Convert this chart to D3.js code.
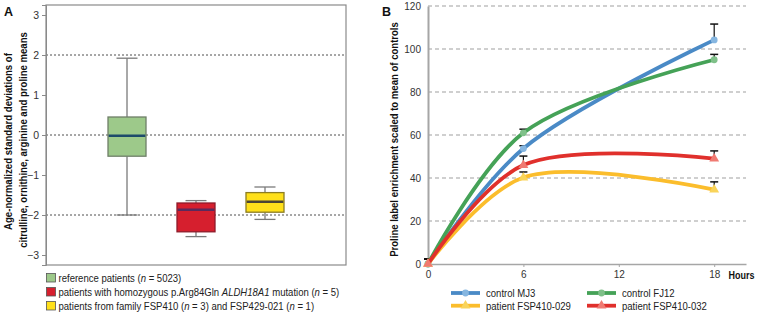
<!DOCTYPE html>
<html><head><meta charset="utf-8">
<script src="https://cdn.jsdelivr.net/npm/d3@7"></script>
<style>
body{margin:0;background:#fff;}
svg{display:block;font-family:"Liberation Sans",Arial,sans-serif;}
</style></head>
<body><svg id="c" width="757" height="314"></svg>
<script>
// ---------- Panel A data ----------
const groupsA = ["reference","ALDH18A1","FSP410"];
const whiskerLow  = [-2.00, -2.54, -2.11];
const q1          = [-0.53, -2.42, -1.93];
const medianA     = [-0.02, -1.87, -1.67];
const q3          = [ 0.45, -1.70, -1.44];
const whiskerHigh = [ 1.92, -1.64, -1.30];
const yTicksA = [-3,-2,-1,0,1,2,3];
const gridA = [-2,0,2];
const boxFill   = ["#9dc98a","#d61f2e","#ffe01a"];
const boxStroke = ["#6f7f68","#8e1b2a","#8c7d22"];
const medColor  = ["#1d4a6a","#5b2a5c","#4a4535"];

// ---------- Panel B data ----------
const hours = [0, 6, 18];
const seriesNames = ["control MJ3","control FJ12","patient FSP410-029","patient FSP410-032"];
const mj3   = [0, 53.7, 104.2];
const fj12  = [0, 61.0, 95.0];
const p029  = [0, 40.2, 34.6];
const p032  = [0, 46.0, 49.0];
const mj3Up  = [2.3, 55.0, 111.6];
const fj12Up = [2.3, 62.7, 97.5];
const p029Up = [2.3, 42.8, 38.2];
const p032Up = [2.3, 50.2, 52.6];
const xTicksB = [0, 6, 12, 18];
const yTicksB = [0, 20, 40, 60, 80, 100, 120];
const lineColors = ["#4a8ac6","#45a257","#fbbd2c","#e0302c"];
const markColors = ["#86b6e0","#7fc089","#f9d45a","#f07a72"];
const markShapes = ["circle","circle","triangle","triangle"];

const svg = d3.select("#c");
const FONT = "'Liberation Sans',Arial,sans-serif";

// horizontal squeeze factor so a text's length matches a target length
function squeeze(sel, target){
  const w = sel.node().getComputedTextLength();
  return target / w;
}
function place(sel, x, y, rot, sx){
  sel.attr("transform", `translate(${x},${y})` + (rot ? ` rotate(${rot})` : "") + ` scale(${sx},1)`);
}

// ================= Panel A =================
const A = svg.append("g");
const yA = d3.scaleLinear().domain([-3.25, 3.25]).range([265, 5]);
const xA = d3.scalePoint().domain(groupsA).range([46, 346]).padding(1.174);
const bw = 38, cw = 21;

A.append("text").attr("x",4).attr("y",16).text("A")
  .attr("font-weight","bold").attr("font-size",12.5).attr("fill","#111");

A.selectAll(".gA").data(gridA).join("line")
  .attr("x1",46).attr("x2",346).attr("y1",d=>yA(d)).attr("y2",d=>yA(d))
  .attr("stroke","#222").attr("stroke-width",0.8).attr("stroke-dasharray","2,2");

A.append("rect").attr("x",46).attr("y",5).attr("width",300).attr("height",260)
  .attr("fill","none").attr("stroke","#8a8a8a").attr("stroke-width",1.2);

const axA = A.append("g").attr("transform","translate(46,0)")
  .call(d3.axisLeft(yA).tickValues(yTicksA).tickSize(4).tickPadding(3).tickFormat(d3.format("d")));
axA.select(".domain").attr("stroke","#8a8a8a");
axA.selectAll(".tick line").attr("stroke","#8a8a8a");
axA.selectAll("text").attr("font-size",10.5).attr("fill","#333").attr("font-family",FONT);

groupsA.forEach((g,i)=>{
  const cx = xA(g);
  const gg = A.append("g");
  gg.append("line").attr("x1",cx).attr("x2",cx).attr("y1",yA(whiskerHigh[i])).attr("y2",yA(q3[i]))
    .attr("stroke","#7a7a7a").attr("stroke-width",1.3);
  gg.append("line").attr("x1",cx).attr("x2",cx).attr("y1",yA(q1[i])).attr("y2",yA(whiskerLow[i]))
    .attr("stroke","#7a7a7a").attr("stroke-width",1.3);
  [whiskerHigh[i], whiskerLow[i]].forEach(v=>{
    gg.append("line").attr("x1",cx-cw/2).attr("x2",cx+cw/2).attr("y1",yA(v)).attr("y2",yA(v))
      .attr("stroke","#7a7a7a").attr("stroke-width",1.3);
  });
  gg.append("rect").attr("x",cx-bw/2).attr("y",yA(q3[i])).attr("width",bw)
    .attr("height",yA(q1[i])-yA(q3[i])).attr("fill",boxFill[i])
    .attr("stroke",boxStroke[i]).attr("stroke-width",1.3);
  gg.append("line").attr("x1",cx-bw/2+0.7).attr("x2",cx+bw/2-0.7).attr("y1",yA(medianA[i])).attr("y2",yA(medianA[i]))
    .attr("stroke",medColor[i]).attr("stroke-width",2.6);
});

// y title A (two rotated lines)
const t1 = A.append("text").attr("text-anchor","middle").attr("font-weight","bold")
  .attr("font-size",10.5).attr("fill","#111").text("Age-normalized standard deviations of");
place(t1, 12, 141.5, -90, squeeze(t1, 177));
const t2 = A.append("text").attr("text-anchor","middle").attr("font-weight","bold")
  .attr("font-size",10.5).attr("fill","#111").text("citrulline, ornithine, arginine and proline means");
place(t2, 27, 140, -90, squeeze(t2, 216));

// legend A
const legA = [
  [["reference patients (",false],["n",true],[" = 5023)",false]],
  [["patients with homozygous p.Arg84Gln ",false],["ALDH18A1",true],[" mutation (",false],["n",true],[" = 5)",false]],
  [["patients from family FSP410 (",false],["n",true],[" = 3) and FSP429-021 (",false],["n",true],[" = 1)",false]]
];
const legTexts = [];
legA.forEach((parts,i)=>{
  const y = 278 + i*14;
  A.append("rect").attr("x",46.5).attr("y",y-4.5).attr("width",9).attr("height",8.5)
    .attr("fill",boxFill[i]).attr("stroke","#555").attr("stroke-width",0.8);
  const t = A.append("text").attr("font-size",10.7).attr("fill","#222");
  parts.forEach(p=>t.append("tspan").text(p[0]).attr("font-style",p[1]?"italic":"normal"));
  legTexts.push(t);
});
const sxA = squeeze(legTexts[1], 281);
legTexts.forEach((t,i)=>place(t, 58.5, 278 + i*14 + 4, 0, sxA));

// ================= Panel B =================
const B = svg.append("g");
const xB = d3.scaleLinear().domain([0,20]).range([428,746]);
const yB = d3.scaleLinear().domain([0,120]).range([264,6]);

B.append("text").attr("x",382).attr("y",16).text("B")
  .attr("font-weight","bold").attr("font-size",12.5).attr("fill","#111");

B.selectAll(".gB").data(yTicksB.filter(d=>d>0)).join("line")
  .attr("x1",428).attr("x2",746).attr("y1",d=>yB(d)).attr("y2",d=>yB(d))
  .attr("stroke","#a0a0a0").attr("stroke-width",1.1).attr("stroke-dasharray","4,3");

const axBy = B.append("g").attr("transform","translate(428,0)")
  .call(d3.axisLeft(yB).tickValues(yTicksB).tickSize(0).tickPadding(7));
axBy.select(".domain").attr("stroke","#a6a6a6").attr("stroke-width",2);
axBy.selectAll("text").attr("font-size",10).attr("fill","#333").attr("font-family",FONT);

const axBx = B.append("g").attr("transform","translate(0,264)")
  .call(d3.axisBottom(xB).tickValues(xTicksB).tickSize(3).tickPadding(4).tickSizeOuter(0));
axBx.select(".domain").attr("stroke","#a6a6a6").attr("stroke-width",1.5);
axBx.selectAll(".tick line").attr("stroke","#a6a6a6");
axBx.selectAll("text").attr("font-size",10).attr("fill","#333").attr("font-family",FONT);

const hrs = B.append("text").text("Hours")
  .attr("font-weight","bold").attr("font-size",10.5).attr("fill","#111");
place(hrs, 728.5, 279, 0, squeeze(hrs, 26));

const tB = B.append("text").attr("text-anchor","middle").attr("font-weight","bold")
  .attr("font-size",10.8).attr("fill","#111")
  .text("Proline label enrichment scaled to mean of controls");
place(tB, 398, 139.5, -90, squeeze(tB, 235));

const values = [mj3, fj12, p029, p032];
const ups = [mj3Up, fj12Up, p029Up, p032Up];
const line = d3.line().x((d,i)=>xB(hours[i])).y(d=>yB(d)).curve(d3.curveCatmullRom.alpha(0.5));
const tri = d3.symbol().type(d3.symbolTriangle).size(42);

values.forEach((vals,s)=>{
  vals.forEach((v,i)=>{
    const x = xB(hours[i]);
    B.append("line").attr("x1",x).attr("x2",x).attr("y1",yB(v)).attr("y2",yB(ups[s][i]))
      .attr("stroke","#111").attr("stroke-width",1.2);
    B.append("line").attr("x1",x-4).attr("x2",x+4).attr("y1",yB(ups[s][i])).attr("y2",yB(ups[s][i]))
      .attr("stroke","#111").attr("stroke-width",1.5);
  });
});

function marker(g, shape, x, y, fill){
  if(shape==="circle") g.append("circle").attr("cx",x).attr("cy",y).attr("r",3.4).attr("fill",fill);
  else g.append("path").attr("d",tri).attr("transform",`translate(${x},${y})`).attr("fill",fill);
}

values.forEach((vals,s)=>{
  B.append("path").datum(vals).attr("d",line).attr("fill","none")
    .attr("stroke",lineColors[s]).attr("stroke-width",3.8).attr("stroke-linecap","round");
  vals.forEach((v,i)=>marker(B, markShapes[s], xB(hours[i]), yB(v), markColors[s]));
});

// legend B
const legBTexts = [], legBPos = [];
seriesNames.forEach((n,s)=>{
  const col = s%2, row = Math.floor(s/2);
  const x0 = col===0 ? 451 : 587;
  const y = 293 + row*12.7;
  B.append("line").attr("x1",x0).attr("x2",x0+29).attr("y1",y).attr("y2",y)
    .attr("stroke",lineColors[s]).attr("stroke-width",3.8);
  marker(B, markShapes[s], x0+14.5, y, markColors[s]);
  legBTexts.push(B.append("text").text(n).attr("font-size",10.3).attr("fill","#222"));
  legBPos.push([x0+35, y+4]);
});
const sxB = squeeze(legBTexts[2], 85);
legBTexts.forEach((t,i)=>place(t, legBPos[i][0], legBPos[i][1], 0, sxB));
</script></body></html>
